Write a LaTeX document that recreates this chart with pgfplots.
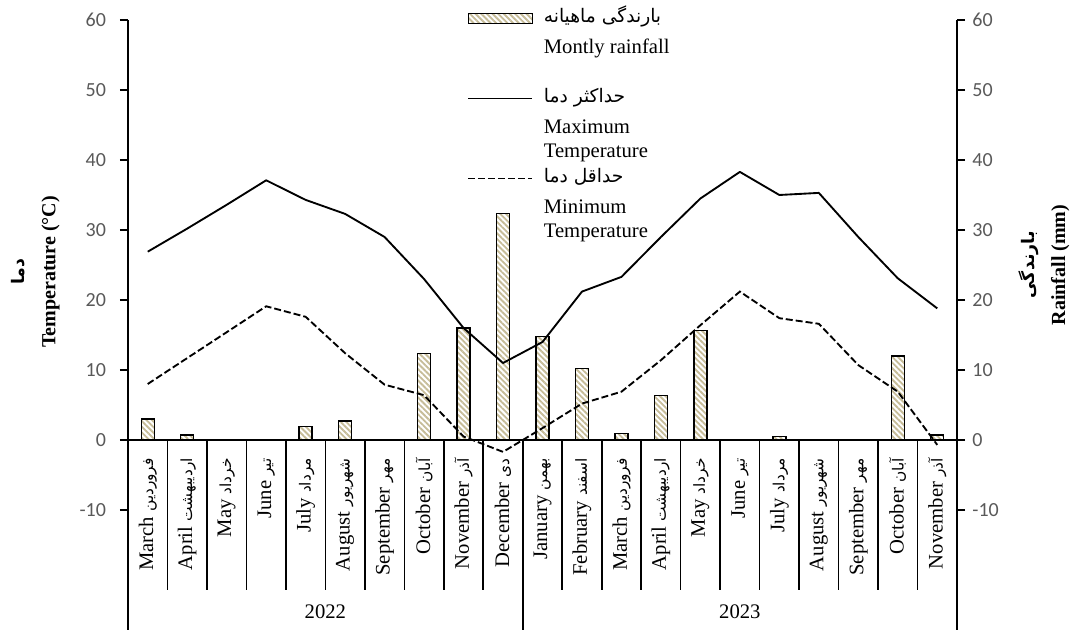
\documentclass[border=0pt]{standalone}
\usepackage{pgfplots}
\pgfplotsset{compat=1.18}
\usepackage{fontspec}
\setmainfont{Liberation Serif}
\newfontfamily\tickfont{Carlito}
\newfontfamily\fa[Script=Arabic]{DejaVu Sans}
\usetikzlibrary{patterns.meta}
\TeXXeTstate=1
\definecolor{stripe}{RGB}{198,188,152}
\definecolor{tickgray}{RGB}{89,89,89}
\newcommand{\fat}[2][11.5]{{\fa\fontsize{#1}{#1}\selectfont\beginR #2\endR}}
\newcommand{\m}[2]{#1\ \fat{#2}}
\pgfplotsset{
  solidleg/.style={legend image code/.code={\draw[black,line width=1.4pt] (0pt,3pt) -- (48pt,3pt);}},
  dashleg/.style={legend image code/.code={\draw[black,line width=1.4pt,dash pattern=on 5.25pt off 2.25pt] (0pt,3pt) -- (48pt,3pt);}},
  barleg/.style={legend image code/.code={\draw[black,line width=0.9pt,pattern={Lines[angle=-45,distance=3pt,line width=1.4pt]},pattern color=stripe] (0pt,-1pt) rectangle (48pt,7pt);}},
}
\begin{document}
\begin{tikzpicture}
\path[use as bounding box] (-96pt,-90pt) rectangle (710.25pt,382.5pt);
% rainfall axis (right)
\begin{axis}[
  at={(0,0)}, anchor=south west,
  scale only axis, width=621.75pt, height=367.5pt,
  xmin=0.5, xmax=21.5, ymin=-10, ymax=60,
  axis x line=none, axis y line*=right,
  ytick={-10,0,10,20,30,40,50,60},
  tick align=outside, major tick length=6pt,
  /pgf/number format/assume math mode=true,
  yticklabel style={font=\fontsize{15}{18}\tickfont, text=tickgray, xshift=2pt},
  y axis line style={line width=1.2pt},
  ytick style={line width=1.2pt, black},
  ylabel={{\fa\bfseries\fontsize{13}{13}\selectfont\beginR بارندگی\endR}\\[5pt]\textbf{Rainfall (mm)}},
  ylabel style={at={(axis description cs:1.105,0.5)}, anchor=center, align=center, font=\fontsize{15}{18}\selectfont},
]
\addplot[ybar, bar width=9.75pt, draw=black, line width=1pt,
  pattern={Lines[angle=-45,distance=3pt,line width=1.4pt]}, pattern color=stripe]
  coordinates {(1,3.0) (2,0.7) (5,1.9) (6,2.7) (8,12.4) (9,16.0) (10,32.4) (11,14.8)
  (12,10.2) (13,0.9) (14,6.4) (15,15.6) (17,0.5) (20,12.0) (21,0.7)};
\end{axis}
% temperature axis (left)
\begin{axis}[
  at={(0,0)}, anchor=south west,
  scale only axis, width=621.75pt, height=367.5pt,
  xmin=0.5, xmax=21.5, ymin=-10, ymax=60,
  clip=false,
  axis y line*=left, axis x line*=bottom,
  x axis line style={draw=none},
  xtick={1,...,21}, xtick style={draw=none},
  xticklabels={\m{March}{فروردین},\m{April}{اردیبهشت},\m{May}{خرداد},\m{June}{تیر},\m{July}{مرداد},\m{August}{شهریور},\m{September}{مهر},\m{October}{آبان},\m{November}{آذر},\m{December}{دی},
    \m{January}{بهمن},\m{February}{اسفند},\m{March}{فروردین},\m{April}{اردیبهشت},\m{May}{خرداد},\m{June}{تیر},\m{July}{مرداد},\m{August}{شهریور},\m{September}{مهر},\m{October}{آبان},\m{November}{آذر}},
  xticklabel style={font=\fontsize{15.5}{18}\selectfont, yshift=45pt, rotate=90, anchor=east, inner sep=0pt},
  ytick={-10,0,10,20,30,40,50,60},
  tick align=outside, major tick length=6pt,
  /pgf/number format/assume math mode=true,
  yticklabel style={font=\fontsize{15}{18}\tickfont, text=tickgray, xshift=-7pt, anchor=east},
  y axis line style={line width=1.2pt},
  ytick style={line width=1.2pt, black},
  ylabel={{\fa\bfseries\fontsize{13}{13}\selectfont\beginR دما\endR}\\[5pt]\textbf{Temperature (°C)}},
  ylabel style={at={(axis description cs:-0.1116,0.486)}, anchor=center, align=center, font=\fontsize{15}{18}\selectfont},
  legend style={at={(rel axis cs:0.409,1.0306)}, anchor=north west, draw=none, fill=none,
    inner sep=0pt, row sep=0pt, column sep=8pt, font=\fontsize{15.5}{18.5}\selectfont,
    nodes={inner sep=0pt, text depth=}, cells={anchor=base west}},
]
\addlegendimage{barleg}
\addlegendentry{\begin{tabular}[t]{@{}l@{}}\fat[14]{بارندگی ماهیانه}\\[4.5pt]Montly rainfall\\ \strut\end{tabular}}
\addplot[black, line width=1.4pt, line join=round, solidleg]
  coordinates {(1,26.9) (2,30.2) (3,33.6) (4,37.1) (5,34.3) (6,32.3) (7,29.0) (8,23.0) (9,16.0) (10,11.0)
  (11,14.0) (12,21.2) (13,23.3) (14,29.0) (15,34.5) (16,38.3) (17,35.0) (18,35.3) (19,29.0) (20,23.1) (21,18.8)};
\addlegendentry{\begin{tabular}[t]{@{}l@{}}\fat[14]{حداکثر دما}\\[4.5pt]Maximum\\Temperature\end{tabular}}
\addplot[black, line width=1.4pt, dash pattern=on 5.25pt off 2.25pt, dashleg]
  coordinates {(1,8.0) (2,11.7) (3,15.4) (4,19.1) (5,17.6) (6,12.4) (7,7.9) (8,6.4) (9,0.5) (10,-1.7)
  (11,1.7) (12,5.2) (13,6.9) (14,11.4) (15,16.4) (16,21.2) (17,17.4) (18,16.6) (19,10.7) (20,6.9) (21,-0.7)};
\addlegendentry{\begin{tabular}[t]{@{}l@{}}\fat[14]{حداقل دما}\\[4.5pt]Minimum\\Temperature\end{tabular}}
% category table lines
\draw[line width=1.2pt] (axis cs:0.5,0) -- (axis cs:21.5,0);
\pgfplotsinvokeforeach{1.5,2.5,3.5,4.5,5.5,6.5,7.5,8.5,9.5,11.5,12.5,13.5,14.5,15.5,16.5,17.5,18.5,19.5,20.5}{
  \draw[line width=1.2pt] (axis cs:#1,0) -- ++(0pt,-112.5pt);}
\pgfplotsinvokeforeach{0.5,10.5,21.5}{
  \draw[line width=1.2pt] (axis cs:#1,0) -- ++(0pt,-142.5pt);}
\node[font=\fontsize{15.5}{18}\selectfont, yshift=-76.5pt] at (axis cs:5.5,-10) {2022};
\node[font=\fontsize{15.5}{18}\selectfont, yshift=-76.5pt] at (axis cs:16,-10) {2023};
\end{axis}
\end{tikzpicture}
\end{document}
